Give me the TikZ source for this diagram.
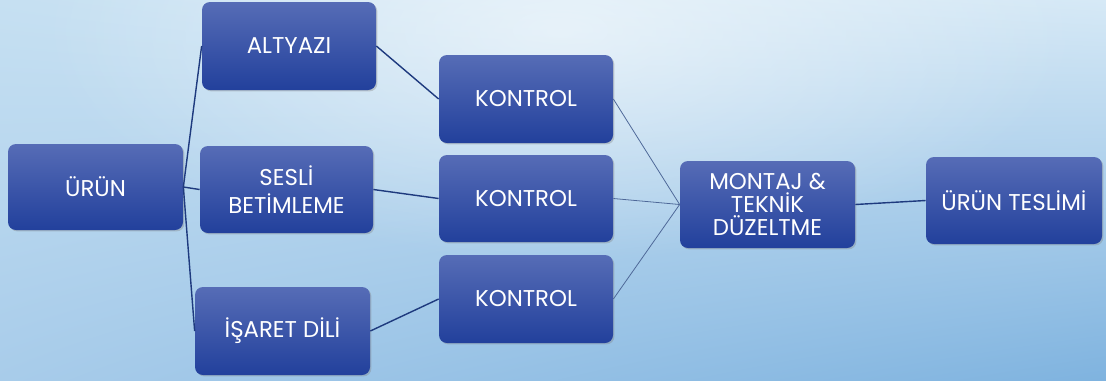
\documentclass[tikz,border=0pt]{standalone}
\usepackage{fontspec}
\setmainfont{Poppins}
\usetikzlibrary{shadows,fadings,shadings}

\definecolor{bgtl}{HTML}{C6E0F2}
\definecolor{bgtr}{HTML}{D6E9F6}
\definecolor{bgbl}{HTML}{A8CCEA}
\definecolor{bgbr}{HTML}{7FB3DF}
\definecolor{boxtop}{HTML}{566CB6}
\definecolor{boxmid}{HTML}{3752A9}
\definecolor{boxbot}{HTML}{22409C}
\definecolor{linkdark}{HTML}{1E3A7E}
\definecolor{linklight}{HTML}{4E6898}

\tikzfading[name=glow, inner color=transparent!45, outer color=transparent!100]

\begin{document}
\begin{tikzpicture}[x=0.02cm, y=-0.02cm,
    stagebox/.style={rectangle, rounded corners=8*0.02cm, top color=boxtop, middle color=boxmid,
        bottom color=boxbot, text=white, align=center, inner sep=2pt,
        font=\fontsize{13pt}{13pt}\selectfont,
        drop shadow={shadow xshift=0.8pt, shadow yshift=-0.8pt, opacity=0.35}},
    boldlink/.style={draw=linkdark, line width=0.8pt},
    thinlink/.style={draw=linklight, line width=0.45pt}]

    % Background
    \useasboundingbox (0,0) rectangle (1106,380);
    \shade [upper left=bgtl, upper right=bgtr, lower left=bgbl, lower right=bgbr] (0,0) rectangle (1106,380);
    \fill [white, path fading=glow, fit fading=true] (560,30) ellipse (520 and 230);

    % Stages
    \node [stagebox, minimum width=175*0.02cm, minimum height=86*0.02cm] (urun) at (95.5,187) {ÜRÜN};
    \node [stagebox, minimum width=174*0.02cm, minimum height=88*0.02cm] (altyazi) at (289,46) {ALTYAZI};
    \node [stagebox, minimum width=173*0.02cm, minimum height=87*0.02cm] (sesli) at (286.5,189.5) {SESLİ\\[3pt]BETİMLEME};
    \node [stagebox, minimum width=175*0.02cm, minimum height=88*0.02cm] (isaret) at (282.5,331) {İŞARET DİLİ};

    % Checks
    \node [stagebox, minimum width=174*0.02cm, minimum height=88*0.02cm] (kontrolA) at (526,99) {KONTROL};
    \node [stagebox, minimum width=174*0.02cm, minimum height=87*0.02cm] (kontrolB) at (526,198.5) {KONTROL};
    \node [stagebox, minimum width=174*0.02cm, minimum height=88*0.02cm] (kontrolC) at (526,299) {KONTROL};

    % Final steps
    \node [stagebox, minimum width=175*0.02cm, minimum height=87*0.02cm] (montaj) at (767.5,204.5) {MONTAJ \&\\TEKNİK\\DÜZELTME};
    \node [stagebox, minimum width=176*0.02cm, minimum height=87*0.02cm] (teslim) at (1014,200.5) {ÜRÜN TESLİMİ};

    % Links
    \draw [boldlink] (urun.east) -- (altyazi.west);
    \draw [boldlink] (urun.east) -- (sesli.west);
    \draw [boldlink] (urun.east) -- (isaret.west);
    \draw [boldlink] (altyazi.east) -- (kontrolA.west);
    \draw [boldlink] (sesli.east) -- (kontrolB.west);
    \draw [boldlink] (isaret.east) -- (kontrolC.west);
    \draw [thinlink] (kontrolA.east) -- (montaj.west);
    \draw [thinlink] (kontrolB.east) -- (montaj.west);
    \draw [thinlink] (kontrolC.east) -- (montaj.west);
    \draw [boldlink] (montaj.east) -- (teslim.west);
\end{tikzpicture}
\end{document}
